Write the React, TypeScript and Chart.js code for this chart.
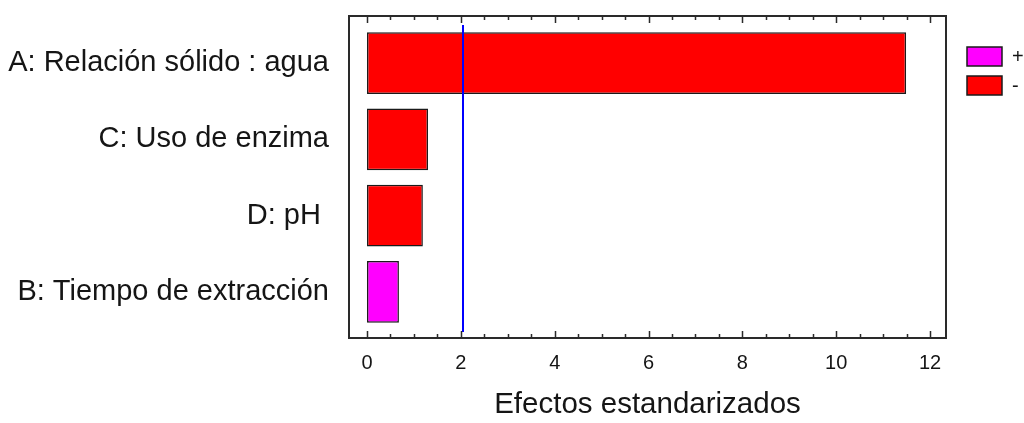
import React, { useEffect, useRef } from "react";
import { Chart, registerables } from "chart.js";

Chart.register(...registerables);

const categories = [
  "A: Relación sólido : agua",
  "C: Uso de enzima",
  "D: pH ",
  "B: Tiempo de extracción",
];
const positiveEffects = [null, null, null, 0.68];
const negativeEffects = [11.49, 1.3, 1.19, null];
const criticalValue = 2.04;
const legendLabels = ["+", "-"];
const axisTitle = "Efectos estandarizados";
const xMin = -0.384;
const xMax = 12.34;
const tickStep = 2;
const minorStep = 0.5;

const FONT = "'Liberation Sans', Arial, sans-serif";
const TEXT = "#151515";
const FRAME = "#2a2a2a";

const framePlugin = {
  id: "framePlugin",
  afterDatasetsDraw(chart: any) {
    const { ctx, chartArea: a, scales } = chart;
    const x = scales.x;
    const top = a.top - 9;
    const bottom = a.bottom + 8;
    ctx.save();
    // critical line
    const px = Math.round(x.getPixelForValue(criticalValue));
    ctx.strokeStyle = "#0000ff";
    ctx.lineWidth = 2;
    ctx.beginPath();
    ctx.moveTo(px, a.top);
    ctx.lineTo(px, a.bottom + 2);
    ctx.stroke();
    // frame
    ctx.strokeStyle = FRAME;
    ctx.lineWidth = 2;
    ctx.strokeRect(a.left, top, a.right - a.left, bottom - top);
    // ticks
    ctx.lineWidth = 1.5;
    for (let v = 0; v <= 12 + 1e-9; v += minorStep) {
      const major = Math.abs(v / tickStep - Math.round(v / tickStep)) < 1e-6;
      const len = major ? 7 : 4;
      const tx = Math.round(x.getPixelForValue(v)) + 0.5;
      ctx.beginPath();
      ctx.moveTo(tx, bottom);
      ctx.lineTo(tx, bottom - len);
      ctx.moveTo(tx, top);
      ctx.lineTo(tx, top + len);
      ctx.stroke();
    }
    // legend
    const datasets = chart.data.datasets;
    const lx = a.right + 21;
    let ly = a.top + 22;
    ctx.font = `20px ${FONT}`;
    ctx.textBaseline = "middle";
    ctx.textAlign = "left";
    datasets.forEach((ds: any) => {
      ctx.fillStyle = ds.backgroundColor;
      ctx.fillRect(lx, ly, 35, 19);
      ctx.strokeStyle = "#1a1a1a";
      ctx.lineWidth = 1.5;
      ctx.strokeRect(lx, ly, 35, 19);
      ctx.fillStyle = TEXT;
      ctx.fillText(ds.label, lx + 45, ly + 10);
      ly += 29;
    });
    ctx.restore();
  },
};

export default function App() {
  const ref = useRef<HTMLCanvasElement | null>(null);

  useEffect(() => {
    if (!ref.current) return;
    const chart = new Chart(ref.current, {
      type: "bar",
      data: {
        labels: categories,
        datasets: [
          {
            label: legendLabels[0],
            data: positiveEffects as any,
            backgroundColor: "#ff00ff",
            borderColor: "#1a1a1a",
            borderWidth: 1.5,
            borderSkipped: false,
            categoryPercentage: 1,
            barPercentage: 0.81,
          },
          {
            label: legendLabels[1],
            data: negativeEffects as any,
            backgroundColor: "#ff0000",
            borderColor: "#1a1a1a",
            borderWidth: 1.5,
            borderSkipped: false,
            categoryPercentage: 1,
            barPercentage: 0.81,
          },
        ],
      },
      options: {
        indexAxis: "y",
        responsive: false,
        animation: false,
        layout: { padding: { left: 0, right: 78, top: 25, bottom: 0 } },
        plugins: {
          legend: { display: false },
          tooltip: { enabled: false },
        },
        scales: {
          x: {
            type: "linear",
            stacked: true,
            min: xMin,
            max: xMax,
            grid: { display: false, drawTicks: false },
            border: { display: false },
            ticks: {
              stepSize: tickStep,
              includeBounds: false,
              color: TEXT,
              padding: 21,
              font: { family: FONT, size: 20 },
              maxRotation: 0,
            },
            title: {
              display: true,
              text: axisTitle,
              color: TEXT,
              font: { family: FONT, size: 29.5 },
              padding: { top: 0, bottom: 0 },
            },
            afterFit: (s: any) => {
              s.height = 93;
            },
          },
          y: {
            type: "category",
            stacked: true,
            grid: { display: false, drawTicks: false },
            border: { display: false },
            ticks: {
              color: TEXT,
              padding: 20,
              font: { family: FONT, size: 29 },
            },
            afterFit: (s: any) => {
              s.width = 349;
              s.paddingTop = 0;
              s.paddingBottom = 0;
            },
          },
        },
      },
      plugins: [framePlugin],
    } as any);
    return () => chart.destroy();
  }, []);

  return (
    <div style={{ position: "fixed", left: 0, top: 0, width: 1024, height: 423, background: "#fff" }}>
      <canvas ref={ref} width={1024} height={423} style={{ display: "block" }} />
    </div>
  );
}
